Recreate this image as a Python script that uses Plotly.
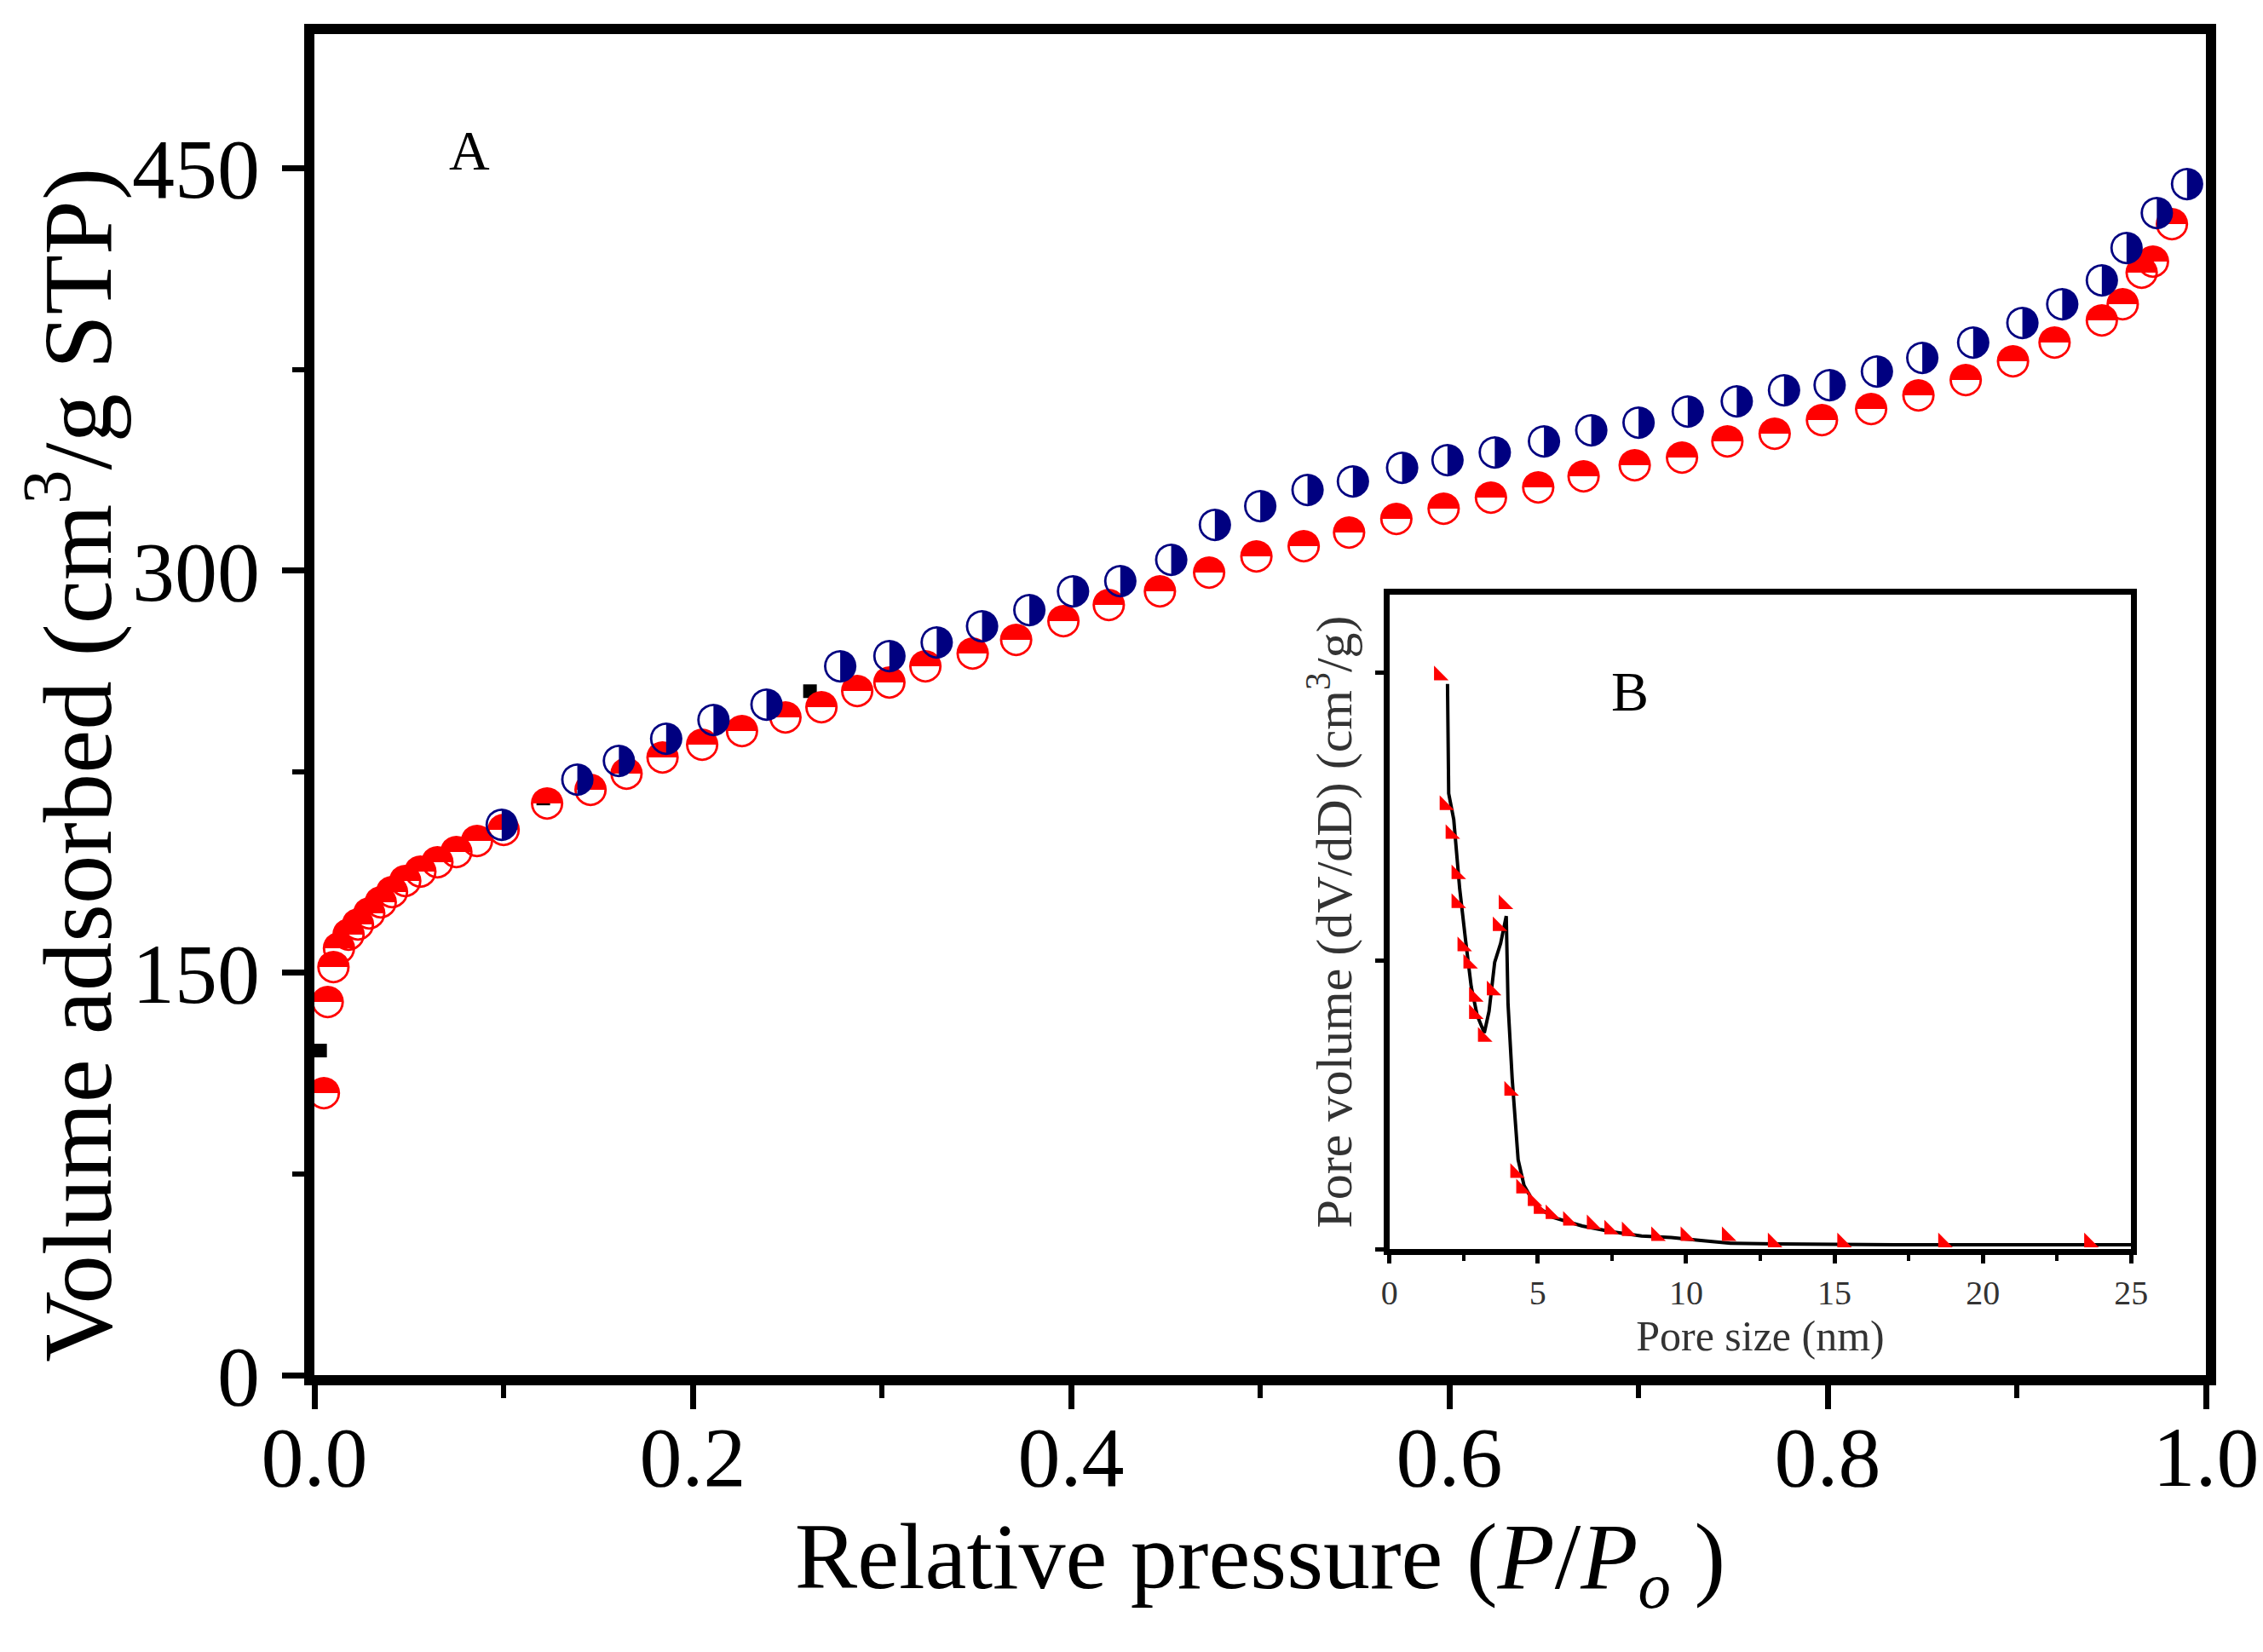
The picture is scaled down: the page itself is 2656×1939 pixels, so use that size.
import plotly.graph_objects as go

# ---------------- data: main isotherm ----------------
blue_x = [0.099, 0.139, 0.161, 0.186, 0.211, 0.239, 0.278, 0.304, 0.329, 0.353,
          0.378, 0.401, 0.426, 0.453, 0.476, 0.500, 0.525, 0.549, 0.575, 0.599,
          0.624, 0.650, 0.675, 0.700, 0.726, 0.752, 0.777, 0.801, 0.826, 0.850,
          0.877, 0.903, 0.924, 0.945, 0.958, 0.974, 0.990]
blue_y = [205, 222, 229, 237, 244, 250, 264, 268, 273, 279,
          285, 292, 296, 304, 317, 324, 330, 333, 338, 341,
          344, 348, 352, 355, 359, 363, 367, 369, 374, 379,
          385, 392, 399, 408, 420, 433, 444]

red_x = [0.005, 0.007, 0.010, 0.013, 0.018, 0.023, 0.029, 0.035, 0.041, 0.048,
         0.056, 0.065, 0.075, 0.086, 0.100, 0.123, 0.146, 0.165, 0.184, 0.205,
         0.226, 0.249, 0.268, 0.287, 0.304, 0.323, 0.348, 0.371, 0.396, 0.420,
         0.447, 0.473, 0.498, 0.523, 0.547, 0.572, 0.597, 0.622, 0.647, 0.671,
         0.698, 0.723, 0.747, 0.772, 0.797, 0.823, 0.848, 0.873, 0.898, 0.920,
         0.945, 0.956, 0.966, 0.972, 0.982]
red_y = [105, 139, 152, 159, 164, 168, 172, 176, 180, 184,
         187.5, 191, 195, 199, 203, 213, 218, 224, 230, 235,
         240, 245, 249, 255, 258, 264, 269, 274, 281, 287,
         292, 299, 305, 309, 314, 319, 323, 327, 331, 335,
         339, 342, 348, 351, 356, 360, 365, 371, 378, 385,
         393, 399, 411, 415, 429]

black_x = [0.003, 0.121, 0.262]
black_y = [121, 215, 255]

# ---------------- data: inset pore size distribution ----------------
psd_red_x = [1.67, 1.86, 2.06, 2.26, 2.26, 2.46, 2.66, 2.85, 2.85, 3.15,
             3.45, 3.65, 3.85, 4.04, 4.24, 4.44, 4.83, 5.03, 5.43, 6.02,
             6.82, 7.41, 8.00, 8.99, 9.98, 11.37, 12.92, 15.26, 18.66, 23.58]
psd_red_y = [0.199, 0.154, 0.144, 0.130, 0.120, 0.105, 0.099, 0.0875, 0.0815, 0.0736,
             0.0897, 0.112, 0.1196, 0.0549, 0.0264, 0.021, 0.0166, 0.0139, 0.0121, 0.0098,
             0.0086, 0.0068, 0.0062, 0.0045, 0.0045, 0.0045, 0.0023, 0.0023, 0.0023, 0.0023]

psd_black_x = [1.96, 2.00, 2.17, 2.37, 2.57, 2.76, 2.96, 3.20, 3.36, 3.55,
               3.75, 3.94, 4.00, 4.14, 4.34, 4.54, 4.93, 5.52, 6.50, 7.50,
               8.50, 9.50, 10.50, 11.50, 13.0, 15.0, 17.0, 19.0, 21.0, 23.0, 25.0]
psd_black_y = [0.196, 0.158, 0.149, 0.125, 0.107, 0.091, 0.081, 0.075, 0.0825, 0.0995,
               0.106, 0.1155, 0.085, 0.059, 0.031, 0.022, 0.015, 0.011, 0.008, 0.006,
               0.0045, 0.004, 0.003, 0.002, 0.0018, 0.0016, 0.0015, 0.0015, 0.0015, 0.0015, 0.0015]

main_xticks = [0.0, 0.2, 0.4, 0.6, 0.8, 1.0]
main_yticks = [0, 150, 300, 450]
inset_xticks = [0, 5, 10, 15, 20, 25]
inset_yticks = [0, 0.1, 0.2]

SERIF = "Liberation Serif, Times New Roman, serif"

fig = go.Figure()

fig.add_trace(go.Scatter(x=black_x, y=black_y, mode="markers",
                         marker=dict(symbol="square", size=16, color="black"),
                         showlegend=False, xaxis="x", yaxis="y"))
fig.add_trace(go.Scatter(x=red_x, y=red_y, mode="text", text=["\u25D3"] * len(red_x),
                         textposition="middle center",
                         textfont=dict(family="DejaVu Sans", size=50, color="#ff0000"),
                         showlegend=False, xaxis="x", yaxis="y"))
fig.add_trace(go.Scatter(x=blue_x, y=blue_y, mode="text", text=["\u25D1"] * len(blue_x),
                         textposition="middle center",
                         textfont=dict(family="DejaVu Sans", size=50, color="#000080"),
                         showlegend=False, xaxis="x", yaxis="y"))

fig.add_trace(go.Scatter(x=psd_black_x, y=psd_black_y, mode="lines",
                         line=dict(color="black", width=4),
                         showlegend=False, xaxis="x2", yaxis="y2"))
fig.add_trace(go.Scatter(x=psd_red_x, y=psd_red_y, mode="markers",
                         marker=dict(symbol="triangle-sw", size=19, color="#ff0000"),
                         showlegend=False, xaxis="x2", yaxis="y2"))

fig.update_layout(
    width=2656, height=1939,
    margin=dict(l=361, r=69, t=32, b=333),
    paper_bgcolor="white", plot_bgcolor="white",
    showlegend=False,
    font=dict(family=SERIF, color="black"),
    xaxis=dict(
        domain=[0, 1], range=[0, 1], anchor="y",
        tickmode="array", tickvals=main_xticks,
        ticktext=[f"{v:.1f}" for v in main_xticks],
        ticks="outside", ticklen=28, tickwidth=7, tickcolor="black",
        minor=dict(dtick=0.1, ticks="outside", ticklen=15, tickwidth=6, tickcolor="black"),
        showline=True, linewidth=12, linecolor="black", mirror=True,
        showgrid=False, zeroline=False,
        tickfont=dict(family=SERIF, size=100, color="black"),
        ticklabelstandoff=-30,
        title=dict(text="Relative pressure (<i>P</i>/<i>P</i><sub><i>o</i></sub> )",
                   font=dict(family=SERIF, size=110, color="black"), standoff=18),
    ),
    yaxis=dict(
        domain=[0, 1], range=[0, 500], anchor="x",
        tickmode="array", tickvals=main_yticks,
        ticks="outside", ticklen=26, tickwidth=7, tickcolor="black",
        minor=dict(dtick=75, ticks="outside", ticklen=14, tickwidth=6, tickcolor="black"),
        showline=True, linewidth=12, linecolor="black", mirror=True,
        showgrid=False, zeroline=False,
        tickfont=dict(family=SERIF, size=100, color="black"),
        ticklabelstandoff=6,
    ),
    xaxis2=dict(
        domain=[0.5683, 0.9605], range=[0, 25], anchor="y2",
        tickmode="array", tickvals=inset_xticks,
        ticks="outside", ticklen=10, tickwidth=5, tickcolor="black",
        minor=dict(dtick=2.5, ticks="outside", ticklen=7, tickwidth=4, tickcolor="black"),
        showline=True, linewidth=7, linecolor="black", mirror=True,
        showgrid=False, zeroline=False,
        tickfont=dict(family=SERIF, size=40, color="#333333"),
        title=dict(text="Pore size (nm)", font=dict(family=SERIF, size=50, color="#333333"),
                   standoff=6),
    ),
    yaxis2=dict(
        domain=[0.094, 0.582], range=[0, 0.227], anchor="x2",
        tickmode="array", tickvals=inset_yticks, showticklabels=False,
        ticks="outside", ticklen=10, tickwidth=5, tickcolor="black",
        showline=True, linewidth=7, linecolor="black", mirror=True,
        showgrid=False, zeroline=False,
        title=dict(text="Pore volume (dV/dD) (cm<sup>3</sup>/g)",
                   font=dict(family=SERIF, size=60, color="#333333"), standoff=10),
    ),
    annotations=[
        dict(text="Volume adsorbed (cm<sup>3</sup>/g STP)", textangle=-90,
             x=(74 - 361) / 2226, y=(1606 - 890) / 1574, xref="paper", yref="paper",
             showarrow=False, font=dict(family=SERIF, size=115, color="black"),
             xanchor="center", yanchor="middle"),
        dict(text="A", x=0.082, y=0.913, xref="paper", yref="paper",
             showarrow=False, font=dict(family=SERIF, size=66, color="black"),
             xanchor="center", yanchor="middle"),
        dict(text="B", x=(1909 - 361) / 2226, y=(1606 - 803) / 1574, xref="paper", yref="paper",
             showarrow=False, font=dict(family=SERIF, size=66, color="black"),
             xanchor="center", yanchor="middle"),
    ],
)

fig.write_html("out.html")
